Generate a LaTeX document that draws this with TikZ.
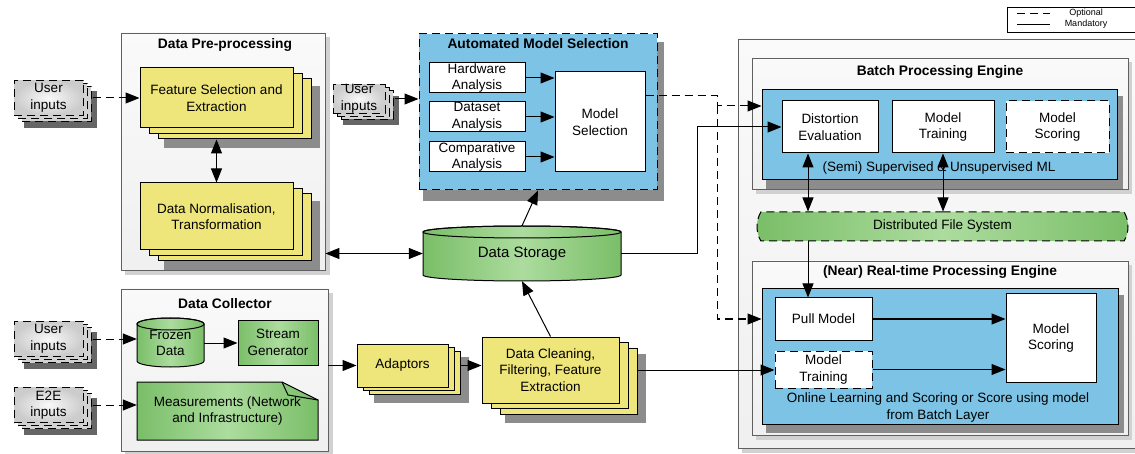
\documentclass[tikz,border=0pt]{standalone}
\usepackage{fontspec}
\setmainfont{Liberation Sans}
\usetikzlibrary{arrows.meta,shapes.misc,shadows}

\definecolor{boxyellow}{RGB}{238,230,122}
\definecolor{boxblue}{RGB}{124,195,230}
\definecolor{boxgreen}{RGB}{122,190,104}
\definecolor{boxgreenlight}{RGB}{172,220,158}
\definecolor{panelgray}{RGB}{96,96,96}

\begin{document}
\begin{tikzpicture}[x=1pt,y=-1pt,>={Triangle[length=14pt,width=11pt]},font=\fontsize{13.5}{16.5}\selectfont]
\useasboundingbox (0,0) rectangle (1135,454);
\clip (0,0) rectangle (1135,454);

\tikzstyle{panel}=[draw=panelgray,line width=0.8pt,top color=gray!4,bottom color=gray!12,inner sep=0pt]
\tikzstyle{paneltitle}=[font=\fontsize{13.8}{16}\selectfont\bfseries]
\tikzstyle{whitebox}=[draw,line width=1pt,fill=white,inner sep=0pt,align=center]
\tikzstyle{optional}=[dash pattern=on 8pt off 5pt]
\tikzstyle{bluebox}=[draw,line width=1pt,fill=boxblue,inner sep=0pt]
\tikzstyle{greenfill}=[left color=boxgreen,right color=boxgreen,middle color=boxgreenlight]
\tikzstyle{panelshadow}=[fill=black!18]
\tikzstyle{boxshadow}=[fill=black!45]
\tikzstyle{stack}=[draw,line width=1pt,fill=boxyellow,inner sep=0pt,align=center,
  copy shadow={shadow xshift=18pt,shadow yshift=-11pt,fill=boxyellow,draw,line width=1pt},
  copy shadow={shadow xshift=9pt,shadow yshift=-5.5pt,fill=boxyellow,draw,line width=1pt}]
\tikzstyle{smallstack}=[draw,line width=1pt,fill=boxyellow,inner sep=0pt,align=center,
  copy shadow={shadow xshift=12pt,shadow yshift=-7pt,fill=boxyellow,draw,line width=1pt},
  copy shadow={shadow xshift=6pt,shadow yshift=-3.5pt,fill=boxyellow,draw,line width=1pt}]
\tikzstyle{userin}=[draw,optional,line width=1pt,inner sep=0pt,align=center,minimum width=69pt,minimum height=35pt,
  inner color=gray!5,outer color=gray!40,
  copy shadow={shadow xshift=8pt,shadow yshift=-6pt,fill=gray!35,draw,line width=1pt},
  copy shadow={shadow xshift=4pt,shadow yshift=-3pt,fill=gray!35,draw,line width=1pt}]
\tikzstyle{link}=[->,line width=1pt]
\tikzstyle{optlink}=[link,optional]

% legend
\node[draw,line width=1pt,fill=white,minimum width=140pt,minimum height=25pt] (legend) at (1077,20.5) {};
\draw[optional,line width=1pt] (1017,14) -- (1050,14);
\draw[line width=1pt] (1017,25) -- (1050,25);
\node[font=\fontsize{9}{10}\selectfont] (legopt) at (1086,13.5) {Optional};
\node[font=\fontsize{9}{10}\selectfont] (legman) at (1086,24) {Mandatory};

% left side
\fill[panelshadow] (125,37) rectangle (330,275);
\node[panel,minimum width=204pt,minimum height=237pt] (dp) at (223,151.5) {};
\node[paneltitle] (dptitle) at (225,45) {Data Pre-processing};
\fill[boxshadow] (164,86) rectangle (320,148);
\node[stack,minimum width=153pt,minimum height=60pt] (fse) at (216.5,98) {Feature Selection and\\Extraction};
\fill[boxshadow] (164,201) rectangle (320,270);
\node[stack,minimum width=153pt,minimum height=67pt] (dnt) at (216.5,216.5) {Data Normalisation,\\Transformation};

\fill[panelshadow] (125,293) rectangle (333,456);
\node[panel,minimum width=207pt,minimum height=162pt] (dc) at (224.5,370) {};
\node[paneltitle] (dctitle) at (225,304) {Data Collector};
\draw[line width=1pt,greenfill] (137,324) -- (137,361) arc[start angle=180,end angle=360,x radius=33.5pt,y radius=6pt]
  -- (204,324) arc[start angle=0,end angle=180,x radius=33.5pt,y radius=6pt] -- cycle;
\draw[line width=1pt] (170.5,324) ellipse[x radius=33.5pt,y radius=6pt];
\node[inner sep=0pt,minimum width=67pt,minimum height=49pt,align=center] (frozen) at (170.5,343) {Frozen\\Data};
\node[draw,line width=1pt,greenfill,inner sep=0pt,align=center,minimum width=80pt,minimum height=45pt] (sg) at (278,342.5) {Stream\\Generator};
\draw[line width=1pt,greenfill] (137,382) -- (282,382) -- (318,400) -- (318,440) -- (137,440) -- cycle;
\draw[line width=1pt] (282,382) -- (288,395) -- (318,400);
\node[inner sep=0pt,minimum width=181pt,minimum height=58pt,align=center] (meas) at (227.5,411) {Measurements (Network\\and Infrastructure)};

\fill[boxshadow,fill=black!60] (24,91) rectangle (97,128);
\node[userin] (ui1) at (48.5,98) {User\\inputs};
\fill[boxshadow,fill=black!60] (24,332) rectangle (97,369);
\node[userin] (ui3) at (48.5,339) {User\\inputs};
\fill[boxshadow,fill=black!60] (24,398) rectangle (97,435);
\node[userin] (e2e) at (48.5,405) {E2E\\inputs};
\fill[boxshadow,fill=black!60] (343,96) rectangle (399,125);
\node[userin,minimum width=52pt,minimum height=27pt] (ui2) at (359,99) {User\\inputs};

% middle
\fill[boxshadow] (423,42) rectangle (664,201);
\node[bluebox,optional,minimum width=238pt,minimum height=156pt] (ams) at (538,112) {};
\node[paneltitle] (amstitle) at (538,44) {Automated Model Selection};
\node[whitebox,minimum width=96pt,minimum height=30pt] (hw) at (477,78) {Hardware\\Analysis};
\node[whitebox,minimum width=96pt,minimum height=30pt] (ds) at (477,117) {Dataset\\Analysis};
\node[whitebox,minimum width=96pt,minimum height=30pt] (ca) at (477,157) {Comparative\\Analysis};
\node[whitebox,minimum width=90pt,minimum height=100pt] (ms) at (600,122) {Model\\Selection};

\draw[line width=1pt,greenfill] (423,232) -- (423,275) arc[start angle=180,end angle=360,x radius=99pt,y radius=6pt]
  -- (621,232) arc[start angle=0,end angle=180,x radius=99pt,y radius=6pt] -- cycle;
\draw[line width=1pt] (522,232) ellipse[x radius=99pt,y radius=6pt];
\node[inner sep=0pt,minimum width=198pt,minimum height=55pt,font=\fontsize{15}{18}\selectfont] (storage) at (522,253.5) {Data Storage};

\fill[boxshadow] (374,357) rectangle (469,403);
\node[smallstack,minimum width=91pt,minimum height=43pt] (adp) at (402.5,365.5) {Adaptors};
\fill[boxshadow] (505,354) rectangle (646,423);
\node[stack,minimum width=137pt,minimum height=66pt] (dcl) at (550.5,370) {Data Cleaning,\\Filtering, Feature\\Extraction};

% right side
\fill[panelshadow] (742,43) rectangle (1148,453);
\node[panel,minimum width=407pt,minimum height=409pt] (engine) at (941.5,243.5) {};
\fill[panelshadow] (756,62) rectangle (1132,194);
\node[panel,minimum width=376pt,minimum height=131pt] (batch) at (940,123.5) {};
\node[paneltitle] (batchtitle) at (940,72) {Batch Processing Engine};
\fill[boxshadow] (766,96) rectangle (1123,189);
\node[bluebox,minimum width=355pt,minimum height=90pt] (bblue) at (939.5,135) {};
\node[whitebox,minimum width=96pt,minimum height=52pt] (de) at (830,127) {Distortion\\Evaluation};
\node[whitebox,minimum width=102pt,minimum height=52pt] (bmt) at (943,127) {Model\\Training};
\node[whitebox,optional,minimum width=103pt,minimum height=52pt] (bms) at (1057.5,127) {Model\\Scoring};
\node (semi) at (939,168) {(Semi) Supervised \& Unsupervised ML};

\node[draw,optional,line width=1pt,greenfill,rounded rectangle,rounded rectangle arc length=60,inner sep=0pt,minimum width=371pt,minimum height=29pt] (dfs) at (942.5,226.5) {Distributed File System};

\fill[panelshadow] (756,265) rectangle (1132,440);
\node[panel,minimum width=376pt,minimum height=174pt] (rte) at (940,348) {};
\node[paneltitle] (rtetitle) at (940,272) {(Near) Real-time Processing Engine};
\fill[boxshadow] (766,295) rectangle (1124,433);
\node[bluebox,minimum width=356pt,minimum height=135pt] (rblue) at (940,356.5) {};
\node[whitebox,minimum width=97pt,minimum height=42pt] (pull) at (823.5,319) {Pull Model};
\node[whitebox,optional,minimum width=97pt,minimum height=37pt] (rmt) at (823.5,369.5) {Model\\Training};
\node[whitebox,minimum width=90pt,minimum height=88pt] (rms) at (1051,338) {Model\\Scoring};
\node[align=center] (online) at (938,407.5) {Online Learning and Scoring or Score using model\\from Batch Layer};

% connectors
\draw[optlink] ([xshift=9pt]ui1.east) -- (ui1.east -| fse.west);
\draw[link,<->] ([yshift=-11pt]fse.south) -- (dnt.north);
\draw[link] ([xshift=9pt]ui2.east) -- (ui2.east -| ams.west);
\draw[link] (hw.east) -- (hw.east -| ms.west);
\draw[link] (ds.east) -- (ds.east -| ms.west);
\draw[link] (ca.east) -- (ca.east -| ms.west);
\coordinate (jn) at (717,106);
\draw[optlink] ([yshift=26pt]ms.east) -| (jn) -- (jn -| bblue.west);
\draw[optlink] (jn) |- (rblue.west |- pull);
\draw[link] (storage.east) -- ++(76,0) |- (de.west);
\draw[link] (storage.north) -- (ams.south);
\draw[link,<->] (dp.east |- storage.west) -- (storage.west);
\draw[link] (dcl.north) -- (storage.south);
\draw[link] ([xshift=12pt]adp.east) -- (adp.east -| dcl.west);
\draw[link] (dc.east |- adp.west) -- (adp.west);
\draw[optlink] ([xshift=9pt]ui3.east) -- (ui3.east -| frozen.west);
\draw[link] (frozen.east) -- (frozen.east -| sg.west);
\draw[optlink] ([xshift=9pt]e2e.east) -- (e2e.east -| meas.west);
\draw[link] ([xshift=18pt]dcl.east) -- (dcl.east -| rmt.west);
\coordinate (lnk) at ([xshift=-22pt]de.south);
\draw[link,<->] (lnk) -- (lnk |- dfs.north);
\draw[link,<->] (bmt.south) -- (bmt.south |- dfs.north);
\draw[link] (lnk |- dfs.south) -- (lnk |- pull.north);
\draw[link] (pull.east) -- (pull.east -| rms.west);
\draw[link] (rmt.east) -- (rmt.east -| rms.west);
\end{tikzpicture}
\end{document}
